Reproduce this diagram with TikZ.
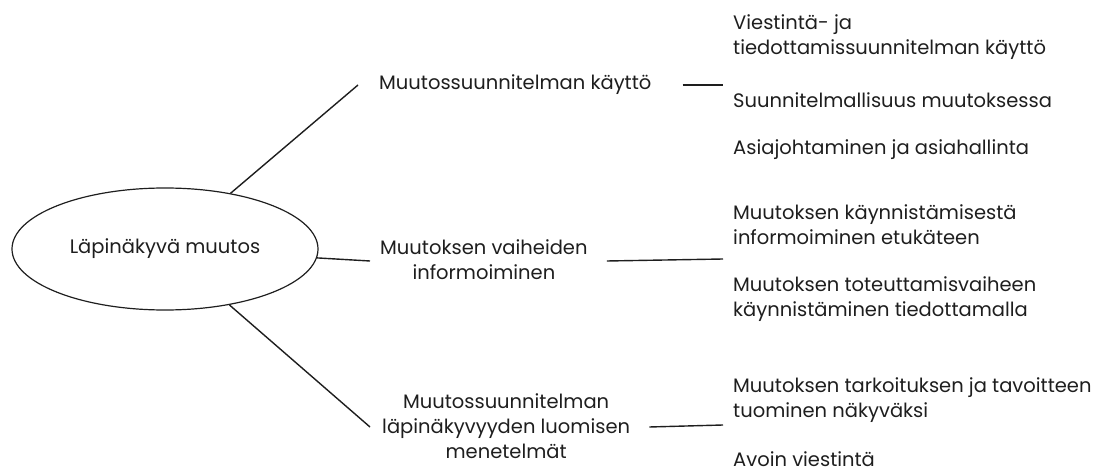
\documentclass[tikz,border=0pt]{standalone}
\usepackage{fontspec}
\setmainfont{Poppins}
\usetikzlibrary{shapes.geometric}
\definecolor{ink}{HTML}{1E1E1E}
\tikzset{
  txt/.style={inner sep=0pt, text=ink, font=\fontsize{19.5}{25}\selectfont},
  lefttxt/.style={txt, anchor=west, align=left},
  midtxt/.style={txt, align=center},
  link/.style={draw=ink, line width=1.4pt},
}
\begin{document}
\begin{tikzpicture}[x=1pt,y=-1pt]
\useasboundingbox (0,0) rectangle (1101,473);
\node[ellipse, draw=ink, line width=1.2pt, minimum width=306pt, minimum height=122pt, txt] (e) at (165,249) {Läpinäkyvä muutos};
% middle level
\node[midtxt, anchor=west] (m1) at (379,85) {Muutossuunnitelman käyttö};
\node[midtxt, anchor=west] (m2) at (380,260) {Muutoksen vaiheiden\\informoiminen};
\node[midtxt, anchor=west] (m3) at (382,426) {Muutossuunnitelman\\läpinäkyvyyden luomisen\\menetelmät};
% right column
\node[lefttxt] (r1) at (733,37.5) {Viestintä- ja\\tiedottamissuunnitelman käyttö};
\node[lefttxt] (r2) at (733,100) {Suunnitelmallisuus muutoksessa};
\node[lefttxt] (r3) at (733,150) {Asiajohtaminen ja asiahallinta};
\node[lefttxt] (r4) at (733,224.5) {Muutoksen käynnistämisestä\\informoiminen etukäteen};
\node[lefttxt] (r5) at (733,299.5) {Muutoksen toteuttamisvaiheen\\käynnistäminen tiedottamalla};
\node[lefttxt] (r6) at (733,400.5) {Muutoksen tarkoituksen ja tavoitteen\\tuominen näkyväksi};
\node[lefttxt] (r7) at (733,459) {Avoin viestintä};
% free ends of the right-hand connectors
\coordinate (c1) at (723,85);
\coordinate (c2) at (723,259);
\coordinate (c3) at (723,425);
% connectors
\draw[link] (e) -- ([xshift=-21pt]m1.west);
\draw[link] (e) -- ([xshift=-10pt,yshift=-1pt]m2.west);
\draw[link] (e) -- ([xshift=-12pt,yshift=-1pt]m3.west);
\draw[link] ([xshift=31pt]m1.east) -- (c1);
\draw[link] ([xshift=19pt,yshift=-1pt]m2.east) -- (c2);
\draw[link] ([xshift=19pt,yshift=-1pt]m3.east) -- (c3);
\end{tikzpicture}
\end{document}
